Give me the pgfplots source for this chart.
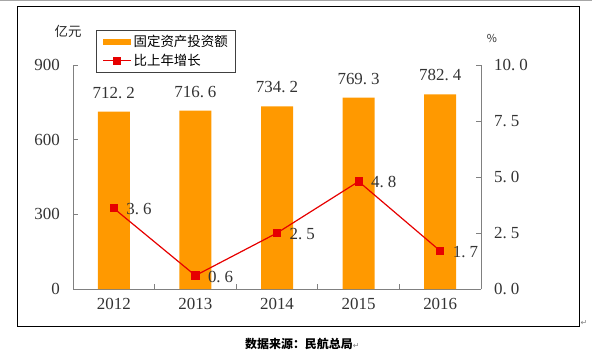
\documentclass[border=0pt]{standalone}
\usepackage{fontspec}
\setmainfont{Liberation Serif}
\newfontfamily\cjk{Noto Sans CJK SC}
\newfontfamily\dejavu{DejaVu Sans}
\usepackage{pgfplots}
\pgfplotsset{compat=1.18}
\definecolor{barorange}{RGB}{255,153,0}
\definecolor{linered}{RGB}{230,0,0}
\definecolor{axgray}{RGB}{128,128,128}
\newcommand{\numfont}{\fontsize{17}{17}\selectfont}
\begin{document}
\begin{tikzpicture}[x=1bp,y=1bp]
\useasboundingbox (0,0) rectangle (592,355);
\draw[gray!70, line width=1.5bp] (0,354.3) -- (592,354.3);
\draw[black, line width=1bp] (17,29) rectangle (579,348);
\begin{axis}[
  at={(73bp,66bp)}, anchor=south west, scale only axis,
  width=408bp, height=224bp,
  xmin=-0.5, xmax=4.5, ymin=0, ymax=900,
  axis x line*=bottom, axis y line*=left,
  xtick={0,1,2,3,4}, xticklabels={2012,2013,2014,2015,2016},
  minor xtick={0.5,1.5,2.5,3.5},
  major x tick style={draw=none},
  ytick={0,300,600,900},
  tick align=inside,
  axis line style={-, axgray, line width=0.8bp},
  tick style={axgray, line width=0.8bp},
  major tick length=5bp, minor tick length=5bp,
  /pgf/number format/assume math mode=true,
  tick label style={font=\numfont, text=black!80},
  yticklabel style={inner sep=0pt, anchor=east, xshift=-13bp, /pgf/number format/fixed},
  xticklabel style={inner sep=0pt, anchor=north, yshift=-9bp},
  legend style={at={(0.0564,1.1563)}, anchor=north west, draw=black!75, line width=0.8bp,
    font=\cjk\fontsize{13.5}{15}\selectfont, inner xsep=6bp, inner ysep=3bp,
    row sep=2bp, cells={anchor=west}},
  clip=false,
]
\addplot[ybar, bar width=32bp, fill=barorange, draw=none,
  legend image code/.code={\fill[barorange] (0bp,-3bp) rectangle (28bp,3bp);},
  nodes near coords,
  nodes near coords style={font=\numfont, text=black!80, anchor=south, inner sep=0pt, yshift=13bp,
    /pgf/number format/fixed, /pgf/number format/fixed zerofill, /pgf/number format/precision=1,
    /pgf/number format/dec sep={.\hspace{4bp}}, /pgf/number format/assume math mode=true}]
  coordinates {(0,712.2) (1,716.6) (2,734.2) (3,769.3) (4,782.4)};
\addlegendentry{固定资产投资额}
\addlegendimage{legend image code/.code={\draw[linered, line width=1.2bp] (0bp,0bp) -- (28bp,0bp); \fill[linered] (10.5bp,-3.5bp) rectangle (17.5bp,3.5bp);}}
\addlegendentry{比上年增长}
\end{axis}
\begin{axis}[
  at={(73bp,66bp)}, anchor=south west, scale only axis,
  width=408bp, height=224bp,
  xmin=-0.5, xmax=4.5, ymin=0, ymax=10,
  axis x line=none, axis y line*=right,
  ytick={0,2.5,5,7.5,10},
  tick align=inside,
  axis line style={-, axgray, line width=0.8bp},
  tick style={axgray, line width=0.8bp},
  major tick length=5bp,
  /pgf/number format/assume math mode=true,
  yticklabel style={font=\numfont, text=black!80, inner sep=0pt, anchor=west, xshift=13bp,
    /pgf/number format/fixed, /pgf/number format/fixed zerofill, /pgf/number format/precision=1,
    /pgf/number format/dec sep={.\hspace{4bp}}},
  clip=false,
]
\addplot[linered, line width=1.2bp, mark=square*, mark size=3.5bp,
  nodes near coords,
  nodes near coords style={font=\numfont, text=black!80, anchor=west, inner sep=0pt, xshift=12bp, yshift=-1bp,
    /pgf/number format/fixed, /pgf/number format/fixed zerofill, /pgf/number format/precision=1,
    /pgf/number format/dec sep={.\hspace{4bp}}, /pgf/number format/assume math mode=true}]
  coordinates {(0,3.6) (1,0.6) (2,2.5) (3,4.8) (4,1.7)};
\end{axis}
\node[font=\cjk\fontsize{13.5}{15}\selectfont, text=black!85] at (68,324) {亿元};
\node[font=\cjk\fontsize{11}{12}\selectfont, text=black!80] at (492,317) {\%};
\node[font=\cjk\bfseries\fontsize{12}{13}\selectfont, anchor=west, inner sep=0pt] at (245,11) {数据来源：民航总局{\dejavu\mdseries\fontsize{8}{9}\selectfont\color{gray}↵}};
\node[font=\dejavu\fontsize{8}{9}\selectfont, text=gray, inner sep=0pt] at (584,32) {↵};
\end{tikzpicture}
\end{document}
